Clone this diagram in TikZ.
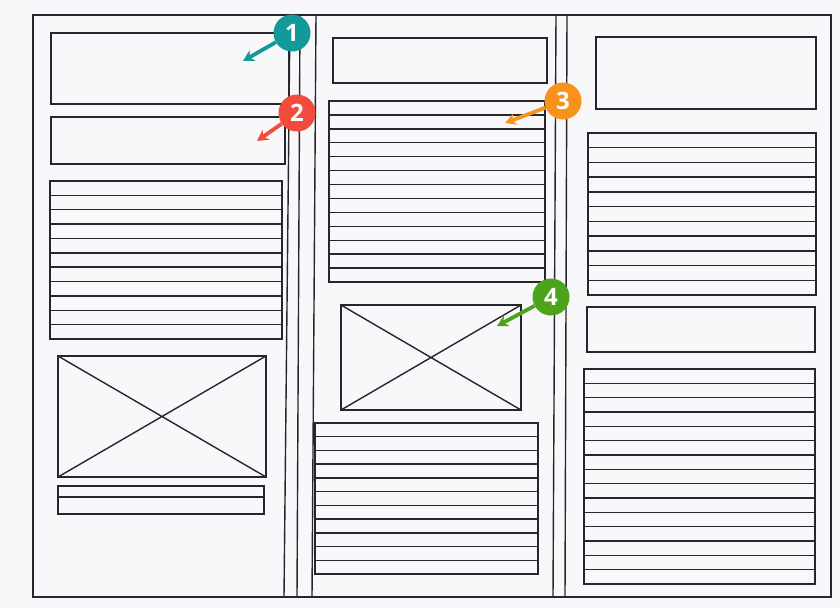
\documentclass[tikz,border=0pt]{standalone}
\usepackage{fontspec}
\setsansfont{Open Sans}
\usepackage{tikz}
\usetikzlibrary{arrows.meta,positioning}
\definecolor{paper}{HTML}{F8F8FB}
\definecolor{ink}{HTML}{26262C}
\definecolor{badgeteal}{HTML}{14999A}
\definecolor{badgered}{HTML}{F04B3C}
\definecolor{badgeorange}{HTML}{F7931D}
\definecolor{badgegreen}{HTML}{4DA31A}
\tikzset{
  sketch/.style={draw=ink,line width=1.4pt},
  rule/.style={draw=ink,line width=1.4pt},
  badge/.style={circle,fill=#1,minimum size=37pt,inner sep=0pt,
    font=\sffamily\bfseries\fontsize{24}{24}\selectfont\color{white}},
  pointer/.style={-{Stealth[length=11pt,width=12pt]},draw=#1,line width=3.8pt},
}

\begin{document}
\begin{tikzpicture}[x=1pt,y=-1pt]
    \fill[paper] (0,0) rectangle (840,608);
    \useasboundingbox (0,0) rectangle (840,608);

    % sheet and folds
    \draw[sketch] (33,15) rectangle (831,597);
    \draw[sketch] (290,15) -- (284,597);
    \draw[sketch] (300,15) -- (297,597);
    \draw[sketch] (316,15) -- (312,597);
    \draw[sketch] (556,15) -- (553,597);
    \draw[sketch] (567,15) -- (565,597);

    % left panel
    \draw[sketch] (51,33) rectangle (289,104);
    \draw[sketch] (51,117) rectangle (285,164);
    \draw[sketch] (50,181) rectangle (282,339);
    \foreach \i in {1,...,10}
      \draw[rule] (50,{181+\i*158/11}) -- (282,{181+\i*158/11});
    \draw[sketch] (58,356) rectangle (266,477);
    \draw[sketch] (58,356) -- (266,477) (58,477) -- (266,356);
    \draw[sketch] (58,486) rectangle (264,514);
    \draw[rule] (58,497) -- (264,497);

    % middle panel
    \draw[sketch] (333,38) rectangle (547,83);
    \draw[sketch] (329,101) rectangle (545,282);
    \foreach \i in {1,...,12}
      \draw[rule] (329,{101+\i*181/13}) -- (545,{101+\i*181/13});
    \draw[sketch] (341,305) rectangle (521,410);
    \draw[sketch] (341,305) -- (521,410) (341,410) -- (521,305);
    \draw[sketch] (315,423) rectangle (538,574);
    \foreach \i in {1,...,10}
      \draw[rule] (315,{423+\i*151/11}) -- (538,{423+\i*151/11});

    % right panel
    \draw[sketch] (596,37) rectangle (816,109);
    \draw[sketch] (588,133) rectangle (816,295);
    \foreach \i in {1,...,10}
      \draw[rule] (588,{133+\i*162/11}) -- (816,{133+\i*162/11});
    \draw[sketch] (587,307) rectangle (815,352);
    \draw[sketch] (584,369) rectangle (815,584);
    \foreach \i in {1,...,14}
      \draw[rule] (584,{369+\i*215/15}) -- (815,{369+\i*215/15});

    % callouts
    \coordinate (t1) at (243,61);
    \coordinate (t2) at (257,141);
    \coordinate (t3) at (505,123);
    \coordinate (t4) at (497,326);
    \node[badge=badgeteal] (b1) at (292,33) {1};
    \node[badge=badgered] (b2) at (297,113) {2};
    \node[badge=badgeorange] (b3) at (563,101) {3};
    \node[badge=badgegreen] (b4) at (551,297) {4};
    \draw[pointer=badgeteal] (b1) -- (t1);
    \draw[pointer=badgered] (b2) -- (t2);
    \draw[pointer=badgeorange] (b3) -- (t3);
    \draw[pointer=badgegreen] (b4) -- (t4);
  \end{tikzpicture}
\end{document}
